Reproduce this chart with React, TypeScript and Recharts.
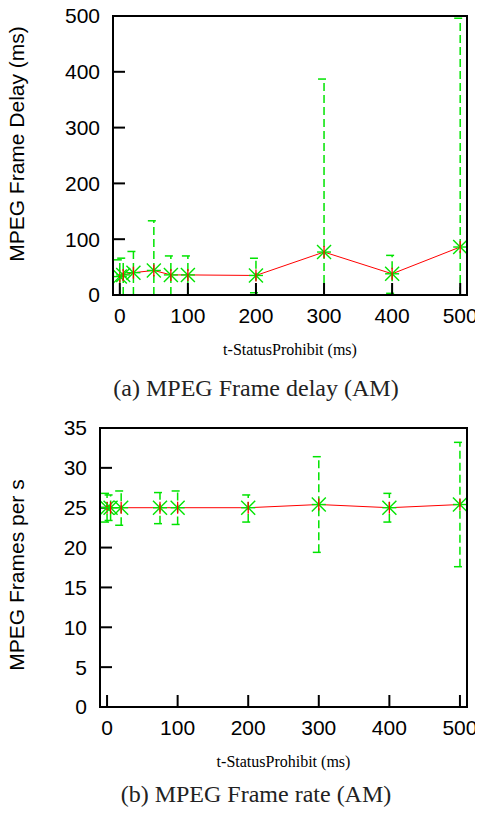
import React from 'react'
import { ComposedChart, Line, Scatter, XAxis, YAxis, ErrorBar } from 'recharts'

// (a) frame delay
const delayX = [0, 5, 20, 50, 75, 100, 200, 300, 400, 500]
const delayMean = [33, 36, 40, 44, 36, 36, 35, 77, 38, 86]
const delayLow = [0, 0, 0, 0, 0, 0, 4, 0, 3, 0]
const delayHigh = [63, 66, 78, 133, 70, 70, 66, 387, 71, 496]

// (b) frame rate
const rateX = [0, 5, 20, 75, 100, 200, 300, 400, 500]
const rateMean = [25, 25, 25, 25, 25, 25, 25.4, 25, 25.4]
const rateLow = [23.2, 23.4, 22.8, 23.0, 22.9, 23.2, 19.4, 23.2, 17.6]
const rateHigh = [26.8, 26.6, 27.1, 26.9, 27.1, 26.6, 31.4, 26.8, 33.2]

const xTicks = [0, 100, 200, 300, 400, 500]
const delayTicks = [0, 100, 200, 300, 400, 500]
const rateTicks = [0, 5, 10, 15, 20, 25, 30, 35]
const xDomain: [number, number] = [-10, 510]

const GREEN = '#00e400'
const RED = '#ff0000'
const FONT = '"Liberation Sans", Arial, Helvetica, sans-serif'
const tickStyle = { fontSize: 21, fill: '#000', fontFamily: FONT }

function build(xs: number[], mean: number[], low: number[], high: number[]) {
  return xs.map((x, i) => ({
    x,
    mean: mean[i],
    err: [mean[i] - low[i], high[i] - mean[i]],
  }))
}

// gnuplot-style asterisk
function Asterisk(props: any) {
  const { cx, cy } = props
  if (cx == null || cy == null) return <g />
  const r = 7
  return (
    <g>
      <line x1={cx - r} y1={cy - r} x2={cx + r} y2={cy + r} stroke={GREEN} strokeWidth={1.4} />
      <line x1={cx - r} y1={cy + r} x2={cx + r} y2={cy - r} stroke={GREEN} strokeWidth={1.4} />
      <line x1={cx - r} y1={cy} x2={cx + r} y2={cy} stroke={GREEN} strokeWidth={1.4} />
      <line x1={cx} y1={cy - 6} x2={cx} y2={cy + 6} stroke={RED} strokeWidth={1.3} />
    </g>
  )
}

function Panel(props: {
  data: any[]
  yDomain: [number, number]
  yTicks: number[]
  yTitle: string
  yTitleY: number
  yAxisWidth: number
}) {
  const { data, yDomain, yTicks, yTitle, yTitleY, yAxisWidth } = props
  return (
    <div style={{ position: 'relative', width: 483, height: 370 }}>
      <ComposedChart
        width={483}
        height={370}
        data={data}
        margin={{ top: 15, right: 15, bottom: 0, left: 0 }}
      >
        <XAxis
          xAxisId="b"
          dataKey="x"
          type="number"
          domain={xDomain}
          ticks={xTicks}
          interval={0}
          height={75}
          tickSize={-12}
          tickMargin={25}
          stroke="#000"
          strokeWidth={2}
          tick={tickStyle}
          allowDataOverflow
          label={{ value: 't-StatusProhibit (ms)', position: 'insideTop', offset: 49, fill: '#000' }}
        />
        <XAxis
          xAxisId="t"
          orientation="top"
          dataKey="x"
          type="number"
          domain={xDomain}
          ticks={xTicks}
          interval={0}
          height={1}
          tickSize={-12}
          stroke="#000"
          strokeWidth={2}
          tick={false}
          allowDataOverflow
        />
        <YAxis
          yAxisId="l"
          type="number"
          domain={yDomain}
          ticks={yTicks}
          interval={0}
          width={yAxisWidth}
          tickSize={-12}
          tickMargin={25}
          stroke="#000"
          strokeWidth={2}
          tick={tickStyle}
          allowDataOverflow
        />
        <YAxis
          yAxisId="r"
          orientation="right"
          type="number"
          domain={yDomain}
          ticks={yTicks}
          interval={0}
          width={1}
          tickSize={-12}
          stroke="#000"
          strokeWidth={2}
          tick={false}
          allowDataOverflow
        />
        <Scatter
          xAxisId="b"
          yAxisId="l"
          dataKey="mean"
          fill={GREEN}
          shape={<Asterisk />}
          isAnimationActive={false}
        >
          <ErrorBar dataKey="err" direction="y" width={6} stroke={GREEN} strokeDasharray="8 4" />
        </Scatter>
        <Line
          xAxisId="b"
          yAxisId="l"
          dataKey="mean"
          stroke={RED}
          dot={false}
          isAnimationActive={false}
        />
      </ComposedChart>
      {/* y-axis title */}
      <div
        style={{
          position: 'absolute',
          left: 32 - 15,
          top: yTitleY,
          width: 0,
          height: 0,
        }}
      >
        <div
          style={{
            position: 'absolute',
            left: 0,
            top: 0,
            transform: 'translate(-50%, -50%) rotate(-90deg)',
            whiteSpace: 'nowrap',
            fontFamily: FONT,
            fontSize: 21,
            lineHeight: '24px',
            color: '#000',
          }}
        >
          {yTitle}
        </div>
      </div>
      {/* plot frame */}
      <div
        style={{
          position: 'absolute',
          left: yAxisWidth - 1,
          top: 15,
          width: 483 - 15 - yAxisWidth + 1,
          height: 281,
          boxSizing: 'border-box',
          border: '2px solid #000',
          pointerEvents: 'none',
        }}
      />
    </div>
  )
}

const captionStyle: React.CSSProperties = {
  boxSizing: 'border-box',
  width: 483,
  paddingLeft: 29,
  textAlign: 'center',
  fontFamily: '"Liberation Serif", "Times New Roman", serif',
  fontSize: 24,
  lineHeight: '24px',
  color: '#222',
}

export default function App() {
  const delayData = build(delayX, delayMean, delayLow, delayHigh)
  const rateData = build(rateX, rateMean, rateLow, rateHigh)
  return (
    <div style={{ marginLeft: -8, marginTop: -8, width: 483 }}>
      <Panel
        data={delayData}
        yDomain={[0, 500]}
        yTicks={delayTicks}
        yTitle="MPEG Frame Delay (ms)"
        yTitleY={144}
        yAxisWidth={113}
      />
      <div style={{ ...captionStyle, height: 42, paddingTop: 6 }}>(a) MPEG Frame delay (AM)</div>
      <Panel
        data={rateData}
        yDomain={[0, 35]}
        yTicks={rateTicks}
        yTitle="MPEG Frames per s"
        yTitleY={163}
        yAxisWidth={100}
      />
      <div style={{ ...captionStyle, height: 31 }}>(b) MPEG Frame rate (AM)</div>
    </div>
  )
}
